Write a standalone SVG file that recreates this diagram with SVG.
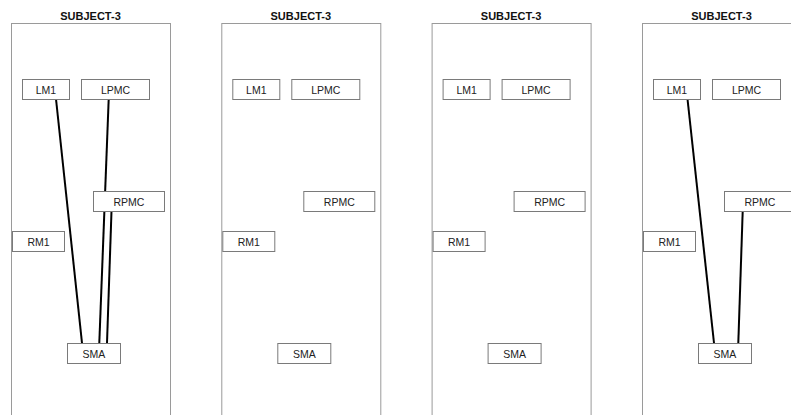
<svg xmlns="http://www.w3.org/2000/svg" width="791" height="415" viewBox="0 0 791 415">
  <style>
    .frame { fill: #ffffff; stroke: #9a9a9a; stroke-width: 1; }
    .title { font-family: "Liberation Sans", Arial, sans-serif; font-size: 11px; font-weight: bold; fill: #111; text-anchor: middle; }
    .box { fill: #ffffff; stroke: #7a7a7a; stroke-width: 1; }
    .label { font-family: "Liberation Sans", Arial, sans-serif; font-size: 10.5px; fill: #222; text-anchor: middle; }
    .edge { stroke: #000; stroke-width: 2; fill: none; }
  </style>
  <rect width="791" height="415" fill="#ffffff"/>

  <!-- Panel 1 -->
  <g id="panel1">
    <text class="title" x="90.5" y="19.5">SUBJECT-3</text>
    <rect class="frame" x="11.5" y="23.5" width="159" height="400"/>
    <g id="p1-connectors">
      <line class="edge" x1="56" y1="99" x2="82" y2="343"/>
      <line class="edge" x1="108.7" y1="99" x2="99.3" y2="343"/>
      <line class="edge" x1="111.5" y1="211" x2="107" y2="343"/>
    </g>
    <g id="p1-LM1"><rect class="box" x="22.5" y="79.5" width="47" height="20"/><text class="label" x="46" y="94">LM1</text></g>
    <g id="p1-LPMC"><rect class="box" x="81.5" y="79.5" width="68" height="20"/><text class="label" x="115.5" y="94">LPMC</text></g>
    <g id="p1-RPMC"><rect class="box" x="93.5" y="191.5" width="71" height="20"/><text class="label" x="129" y="206">RPMC</text></g>
    <g id="p1-RM1"><rect class="box" x="12.5" y="231.5" width="52" height="20"/><text class="label" x="38.5" y="246">RM1</text></g>
    <g id="p1-SMA"><rect class="box" x="67.5" y="343.5" width="53" height="20"/><text class="label" x="94" y="358">SMA</text></g>
  </g>

  <!-- Panel 2 -->
  <g id="panel2" transform="translate(210.3,0)">
    <text class="title" x="90.5" y="19.5">SUBJECT-3</text>
    <rect class="frame" x="11.5" y="23.5" width="159" height="400"/>
    <g id="p2-connectors"></g>
    <g id="p2-LM1"><rect class="box" x="22.5" y="79.5" width="47" height="20"/><text class="label" x="46" y="94">LM1</text></g>
    <g id="p2-LPMC"><rect class="box" x="81.5" y="79.5" width="68" height="20"/><text class="label" x="115.5" y="94">LPMC</text></g>
    <g id="p2-RPMC"><rect class="box" x="93.5" y="191.5" width="71" height="20"/><text class="label" x="129" y="206">RPMC</text></g>
    <g id="p2-RM1"><rect class="box" x="12.5" y="231.5" width="52" height="20"/><text class="label" x="38.5" y="246">RM1</text></g>
    <g id="p2-SMA"><rect class="box" x="67.5" y="343.5" width="53" height="20"/><text class="label" x="94" y="358">SMA</text></g>
  </g>

  <!-- Panel 3 -->
  <g id="panel3" transform="translate(420.6,0)">
    <text class="title" x="90.5" y="19.5">SUBJECT-3</text>
    <rect class="frame" x="11.5" y="23.5" width="159" height="400"/>
    <g id="p3-connectors"></g>
    <g id="p3-LM1"><rect class="box" x="22.5" y="79.5" width="47" height="20"/><text class="label" x="46" y="94">LM1</text></g>
    <g id="p3-LPMC"><rect class="box" x="81.5" y="79.5" width="68" height="20"/><text class="label" x="115.5" y="94">LPMC</text></g>
    <g id="p3-RPMC"><rect class="box" x="93.5" y="191.5" width="71" height="20"/><text class="label" x="129" y="206">RPMC</text></g>
    <g id="p3-RM1"><rect class="box" x="12.5" y="231.5" width="52" height="20"/><text class="label" x="38.5" y="246">RM1</text></g>
    <g id="p3-SMA"><rect class="box" x="67.5" y="343.5" width="53" height="20"/><text class="label" x="94" y="358">SMA</text></g>
  </g>

  <!-- Panel 4 -->
  <g id="panel4" transform="translate(631,0)">
    <text class="title" x="90.5" y="19.5">SUBJECT-3</text>
    <rect class="frame" x="11.5" y="23.5" width="159" height="400"/>
    <g id="p4-connectors">
      <line class="edge" x1="56.5" y1="99" x2="83" y2="343"/>
      <line class="edge" x1="111.7" y1="211" x2="107.3" y2="343"/>
    </g>
    <g id="p4-LM1"><rect class="box" x="22.5" y="79.5" width="47" height="20"/><text class="label" x="46" y="94">LM1</text></g>
    <g id="p4-LPMC"><rect class="box" x="81.5" y="79.5" width="68" height="20"/><text class="label" x="115.5" y="94">LPMC</text></g>
    <g id="p4-RPMC"><rect class="box" x="93.5" y="191.5" width="71" height="20"/><text class="label" x="129" y="206">RPMC</text></g>
    <g id="p4-RM1"><rect class="box" x="12.5" y="231.5" width="52" height="20"/><text class="label" x="38.5" y="246">RM1</text></g>
    <g id="p4-SMA"><rect class="box" x="67.5" y="343.5" width="53" height="20"/><text class="label" x="94" y="358">SMA</text></g>
  </g>
</svg>
